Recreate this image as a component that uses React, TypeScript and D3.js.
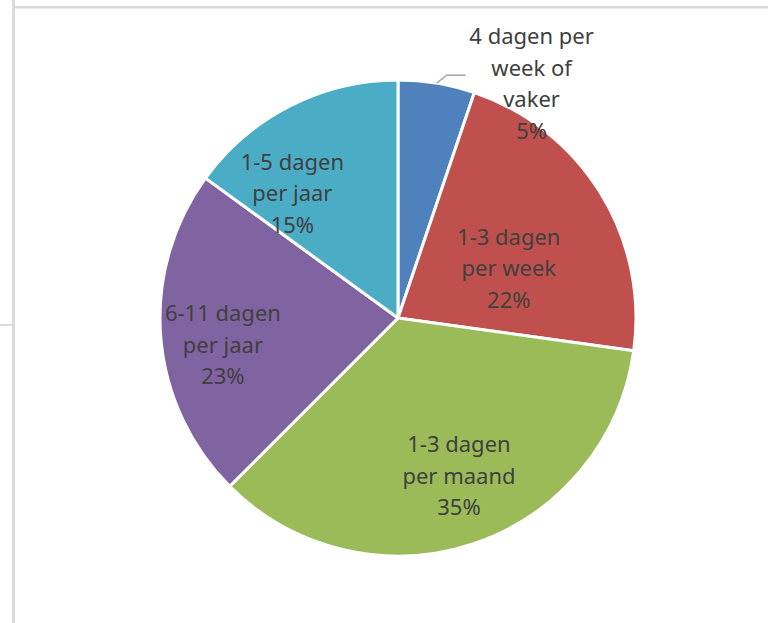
import React, { useEffect, useRef } from 'react';
import * as d3 from 'd3';

// slice data, clockwise from 12 o'clock
const categories = [
  ['4 dagen per', 'week of', 'vaker'],
  ['1-3 dagen', 'per week'],
  ['1-3 dagen', 'per maand'],
  ['6-11 dagen', 'per jaar'],
  ['1-5 dagen', 'per jaar'],
];
const shares = [5.2, 22.0, 35.3, 22.5, 15.0];
const colors = ['#4F81BD', '#C0504D', '#9BBB59', '#8064A2', '#4BACC6'];

// label nudges from the centroid (layout only)
const labelNudge: [number, number][] = [
  [91, 24],
  [-31, 38],
  [8, 0],
  [-9, 14],
  [-30, 24],
];

const width = 768;
const height = 623;

const PieChart: React.FC = () => {
  const svgRef = useRef<SVGSVGElement>(null);

  useEffect(() => {
    if (!svgRef.current) return;
    const svg = d3.select(svgRef.current);
    svg.selectAll('*').remove();

    // frame lines from the surrounding sheet
    svg.append('rect').attr('x', 12).attr('y', 0).attr('width', 3).attr('height', height).attr('fill', '#dadada');
    svg.append('rect').attr('x', 15).attr('y', 6).attr('width', width - 15).attr('height', 2.5).attr('fill', '#dadada');
    svg.append('rect').attr('x', 0).attr('y', 324).attr('width', 13).attr('height', 2).attr('fill', '#dadada');

    const cx = 398;
    const cy = 318;
    const r = 238;

    const pie = d3.pie<number>().sort(null).value(d => d);
    const arcs = pie(shares);
    const arc = d3.arc<d3.PieArcDatum<number>>().innerRadius(0).outerRadius(r);
    const labelArc = d3.arc<d3.PieArcDatum<number>>().innerRadius(r * 0.7).outerRadius(r * 0.7);
    const outerArc = d3.arc<d3.PieArcDatum<number>>().innerRadius(r * 1.1).outerRadius(r * 1.1);
    const edgeArc = d3.arc<d3.PieArcDatum<number>>().innerRadius(r).outerRadius(r);

    const g = svg.append('g').attr('transform', `translate(${cx},${cy})`);

    g.selectAll('path.slice')
      .data(arcs)
      .enter()
      .append('path')
      .attr('class', 'slice')
      .attr('d', arc)
      .attr('fill', (_, i) => colors[i])
      .attr('stroke', '#fff')
      .attr('stroke-width', 3)
      .attr('stroke-linejoin', 'round');

    const lineH = 31.5;

    arcs.forEach((a, i) => {
      const base = i === 0 ? outerArc.centroid(a) : labelArc.centroid(a);
      const x = base[0] + labelNudge[i][0];
      const y = base[1] + labelNudge[i][1];
      const lines = [...categories[i], `${Math.round(shares[i])}%`];
      const top = y - ((lines.length - 1) * lineH) / 2;

      if (i === 0) {
        const [ex, ey] = edgeArc.centroid(a);
        g.append('path')
          .attr('d', `M${ex},${ey} L${ex + 10},${ey - 8} L${ex + 29},${ey - 8}`)
          .attr('fill', 'none')
          .attr('stroke', '#a6a6a6')
          .attr('stroke-width', 1.5);
      }

      const t = g.append('text')
        .attr('text-anchor', 'middle')
        .style('font-family', '"Noto Sans", sans-serif')
        .style('font-size', '22px')
        .style('fill', '#404040');
      lines.forEach((ln, j) => {
        t.append('tspan')
          .attr('x', x)
          .attr('y', top + j * lineH)
          .attr('dy', '0.35em')
          .text(ln);
      });
    });
  }, []);

  return (
    <svg
      ref={svgRef}
      width={width}
      height={height}
      style={{ position: 'absolute', left: 0, top: 0, background: '#fff' }}
    />
  );
};

export default function App() {
  return <PieChart />;
}
